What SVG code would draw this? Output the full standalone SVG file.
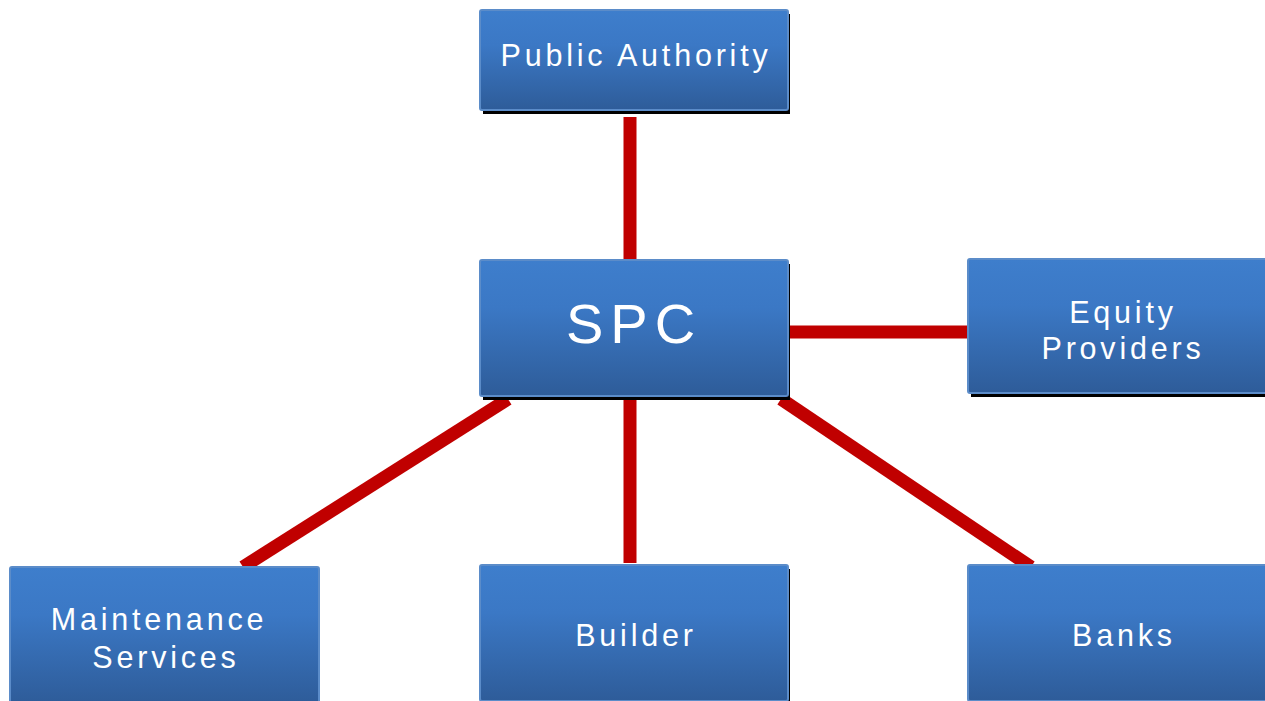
<svg xmlns="http://www.w3.org/2000/svg" width="1265" height="701" viewBox="0 0 1265 701">
<defs>
<linearGradient id="g" x1="0" y1="0" x2="0" y2="1">
<stop offset="0" stop-color="#3e7ecc"/>
<stop offset="0.35" stop-color="#3b78c5"/>
<stop offset="1" stop-color="#2e5c99"/>
</linearGradient>
<style>
.sh{fill:#000}
.bx{fill:url(#g);stroke:#5b8cc9;stroke-width:2}
.t{font-family:"Liberation Sans",Arial,sans-serif;fill:#fff;font-size:30.5px;letter-spacing:3.8px;text-anchor:middle}
.big{font-size:56px;letter-spacing:7px}
.c{stroke:#c00000;stroke-width:13;fill:none}
</style>
</defs>
<rect width="1265" height="701" fill="#fff"/>
<g id="connectors">
<line class="c" x1="630" y1="117" x2="630" y2="262"/>
<line class="c" x1="788" y1="332" x2="969" y2="332"/>
<line class="c" x1="630" y1="398" x2="630" y2="563"/>
<line class="c" x1="508" y1="399" x2="243" y2="567"/>
<line class="c" x1="781" y1="399" x2="1031" y2="567"/>
</g>
<g id="public-authority">
<rect class="sh" x="483" y="14" width="307" height="100"/>
<rect class="bx" x="480" y="10" width="308" height="100" rx="2"/>
<text class="t" x="636" y="66">Public Authority</text>
</g>
<g id="spc">
<rect class="sh" x="483" y="264" width="307" height="136"/>
<rect class="bx" x="480" y="260" width="308" height="136" rx="2"/>
<text class="t big" x="634" y="343">SPC</text>
</g>
<g id="equity-providers">
<rect class="sh" x="971" y="262" width="307" height="135"/>
<rect class="bx" x="968" y="259" width="308" height="134" rx="2"/>
<text class="t" x="1123" y="323">Equity</text>
<text class="t" x="1123" y="359">Providers</text>
</g>
<g id="maintenance-services">
<rect class="sh" x="13" y="571" width="307" height="136"/>
<rect class="bx" x="10" y="567" width="309" height="136" rx="2"/>
<text class="t" x="159" y="630">Maintenance</text>
<text class="t" x="166" y="668">Services</text>
</g>
<g id="builder">
<rect class="sh" x="483" y="569" width="307" height="136"/>
<rect class="bx" x="480" y="565" width="308" height="136" rx="2"/>
<text class="t" x="636" y="646">Builder</text>
</g>
<g id="banks">
<rect class="sh" x="971" y="569" width="307" height="136"/>
<rect class="bx" x="968" y="565" width="308" height="136" rx="2"/>
<text class="t" x="1124" y="646">Banks</text>
</g>
</svg>
